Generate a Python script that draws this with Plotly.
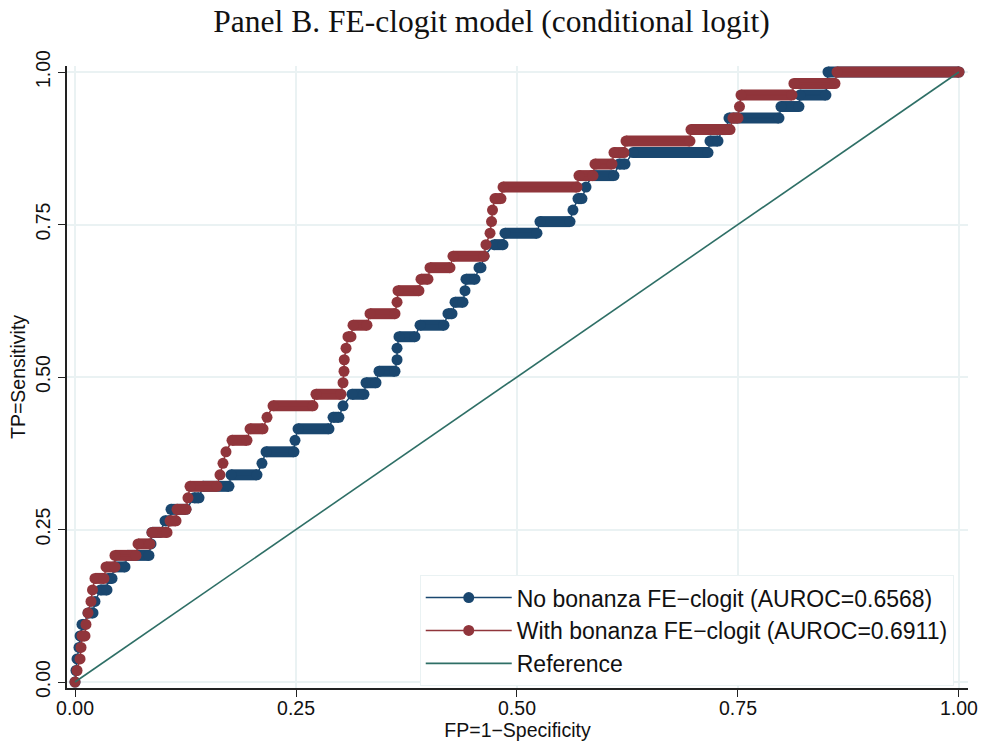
import plotly.graph_objects as go

N_POS = 53  # number of TP levels (TP = k / N_POS)

# ---- No bonanza FE-clogit: per TP level, FP at start and end of run ----
nb_level = list(range(54))
nb_fp_start = [0.0000, 0.0011, 0.0023, 0.0045, 0.0057, 0.0079, 0.0147, 0.0226, 0.0288, 0.0373,
               0.0441, 0.0588, 0.0860, 0.0871, 0.1018, 0.1086, 0.1346, 0.1448, 0.1765, 0.2115,
               0.2161, 0.2489, 0.2523, 0.2919, 0.3032, 0.3133, 0.3292, 0.3439, 0.3643, 0.3643,
               0.3665, 0.3903, 0.4219, 0.4299, 0.4412, 0.4423, 0.4570, 0.4627, 0.4740, 0.4864,
               0.5260, 0.5633, 0.5690, 0.5781, 0.5848, 0.6154, 0.6312, 0.7183, 0.7319, 0.7398,
               0.7986, 0.8201, 0.8507, 0.8518]
nb_fp_end = [0.0000, 0.0011, 0.0023, 0.0045, 0.0068, 0.0102, 0.0204, 0.0226, 0.0362, 0.0419,
             0.0566, 0.0837, 0.0860, 0.0962, 0.1075, 0.1256, 0.1403, 0.1742, 0.2059, 0.2115,
             0.2477, 0.2489, 0.2873, 0.2986, 0.3032, 0.3269, 0.3405, 0.3620, 0.3643, 0.3643,
             0.3846, 0.4174, 0.4265, 0.4389, 0.4412, 0.4525, 0.4593, 0.4627, 0.4842, 0.5226,
             0.5600, 0.5633, 0.5735, 0.5781, 0.6097, 0.6222, 0.7161, 0.7274, 0.7364, 0.7964,
             0.8190, 0.8495, 0.8507, 1.0000]

# ---- With bonanza FE-clogit ----
wb_level = list(range(54))
wb_fp_start = [0.0000, 0.0023, 0.0057, 0.0068, 0.0079, 0.0124, 0.0147, 0.0181, 0.0198, 0.0226,
               0.0351, 0.0452, 0.0713, 0.0871, 0.1075, 0.1154, 0.1278, 0.1301, 0.1640, 0.1674,
               0.1708, 0.1776, 0.1980, 0.2172, 0.2240, 0.2726, 0.3032, 0.3043, 0.3046, 0.3066,
               0.3088, 0.3145, 0.3337, 0.3643, 0.3654, 0.3914, 0.4016, 0.4276, 0.4649, 0.4695,
               0.4712, 0.4723, 0.4751, 0.4842, 0.5701, 0.5882, 0.6097, 0.6233, 0.6968, 0.7443,
               0.7517, 0.7534, 0.8133, 0.8620]
wb_fp_end = [0.0000, 0.0023, 0.0057, 0.0068, 0.0113, 0.0124, 0.0147, 0.0181, 0.0198, 0.0328,
             0.0452, 0.0690, 0.0848, 0.1041, 0.1143, 0.1256, 0.1278, 0.1606, 0.1640, 0.1674,
             0.1708, 0.1946, 0.2127, 0.2172, 0.2692, 0.3009, 0.3032, 0.3043, 0.3046, 0.3066,
             0.3122, 0.3303, 0.3620, 0.3643, 0.3891, 0.3993, 0.4242, 0.4627, 0.4649, 0.4695,
             0.4712, 0.4723, 0.4819, 0.5679, 0.5860, 0.6075, 0.6210, 0.6957, 0.7410, 0.7500,
             0.7517, 0.8111, 0.8597, 1.0000]

ref_x = [0.0, 1.0]
ref_y = [0.0, 1.0]

tick_vals = [0, 0.25, 0.5, 0.75, 1.0]
tick_text = ["0.00", "0.25", "0.50", "0.75", "1.00"]

NB_COLOR = "#1a476f"
WB_COLOR = "#90353b"
REF_COLOR = "#2e6f66"
GRID = "#eaf2f3"
MSIZE = 11


def build(levels, fs, fe):
    px, py, rx, ry = [], [], [], []
    for k, a, b in zip(levels, fs, fe):
        tp = k / N_POS
        px.append(a); py.append(tp)
        if b != a:
            px.append(b); py.append(tp)
            rx += [a, b, None]; ry += [tp, tp, None]
    return px, py, rx, ry


fig = go.Figure()
for name, lv, fs, fe, col in [
    ("No bonanza FE\u2212clogit (AUROC=0.6568)", nb_level, nb_fp_start, nb_fp_end, NB_COLOR),
    ("With bonanza FE\u2212clogit (AUROC=0.6911)", wb_level, wb_fp_start, wb_fp_end, WB_COLOR),
]:
    px, py, rx, ry = build(lv, fs, fe)
    fig.add_trace(go.Scatter(x=rx, y=ry, mode="lines", line=dict(color=col, width=MSIZE),
                             connectgaps=False, showlegend=False, hoverinfo="skip"))
    fig.add_trace(go.Scatter(x=px, y=py, mode="lines+markers", name=name,
                             line=dict(color=col, width=1.5),
                             marker=dict(color=col, size=MSIZE, line=dict(width=0))))

fig.add_trace(go.Scatter(x=ref_x, y=ref_y, mode="lines", name="Reference",
                         line=dict(color=REF_COLOR, width=1.6)))

axis_common = dict(
    tickvals=tick_vals, ticktext=tick_text, showgrid=True, gridcolor=GRID, gridwidth=2,
    zeroline=False, showline=True, linecolor="#222", linewidth=1.5, mirror=False,
    ticks="outside", ticklen=7, tickcolor="#222", tickwidth=1.2, automargin=False,
    tickfont=dict(family="Liberation Sans", size=19.5, color="#111"),
)

fig.update_layout(
    width=983, height=747,
    margin=dict(l=67, r=15, t=66, b=59),
    paper_bgcolor="white", plot_bgcolor="white",
    title=dict(text="Panel B. FE-clogit model (conditional logit)", x=0.5, xanchor="center",
               y=0.972, yanchor="middle",
               font=dict(family="Liberation Serif", size=31.5, color="#111")),
    xaxis=dict(range=[-0.00905, 1.0102], ticklabelstandoff=-5,
               title=dict(text="FP=1\u2212Specificity", standoff=2,
                          font=dict(family="Liberation Sans", size=19.5, color="#111")),
               **axis_common),
    yaxis=dict(range=[-0.00984, 1.00984], tickangle=-90,
               title=dict(text="TP=Sensitivity", standoff=2,
                          font=dict(family="Liberation Sans", size=19.5, color="#111")),
               **axis_common),
    legend=dict(x=0.3915, xanchor="left", y=0.003, yanchor="bottom",
                bgcolor="white", bordercolor=GRID, borderwidth=1,
                itemwidth=86,
                font=dict(family="Liberation Sans", size=23, color="#111")),
    showlegend=True,
)

fig.write_html("out.html", config={"displayModeBar": False},
               post_script="document.body.style.margin='0';")
